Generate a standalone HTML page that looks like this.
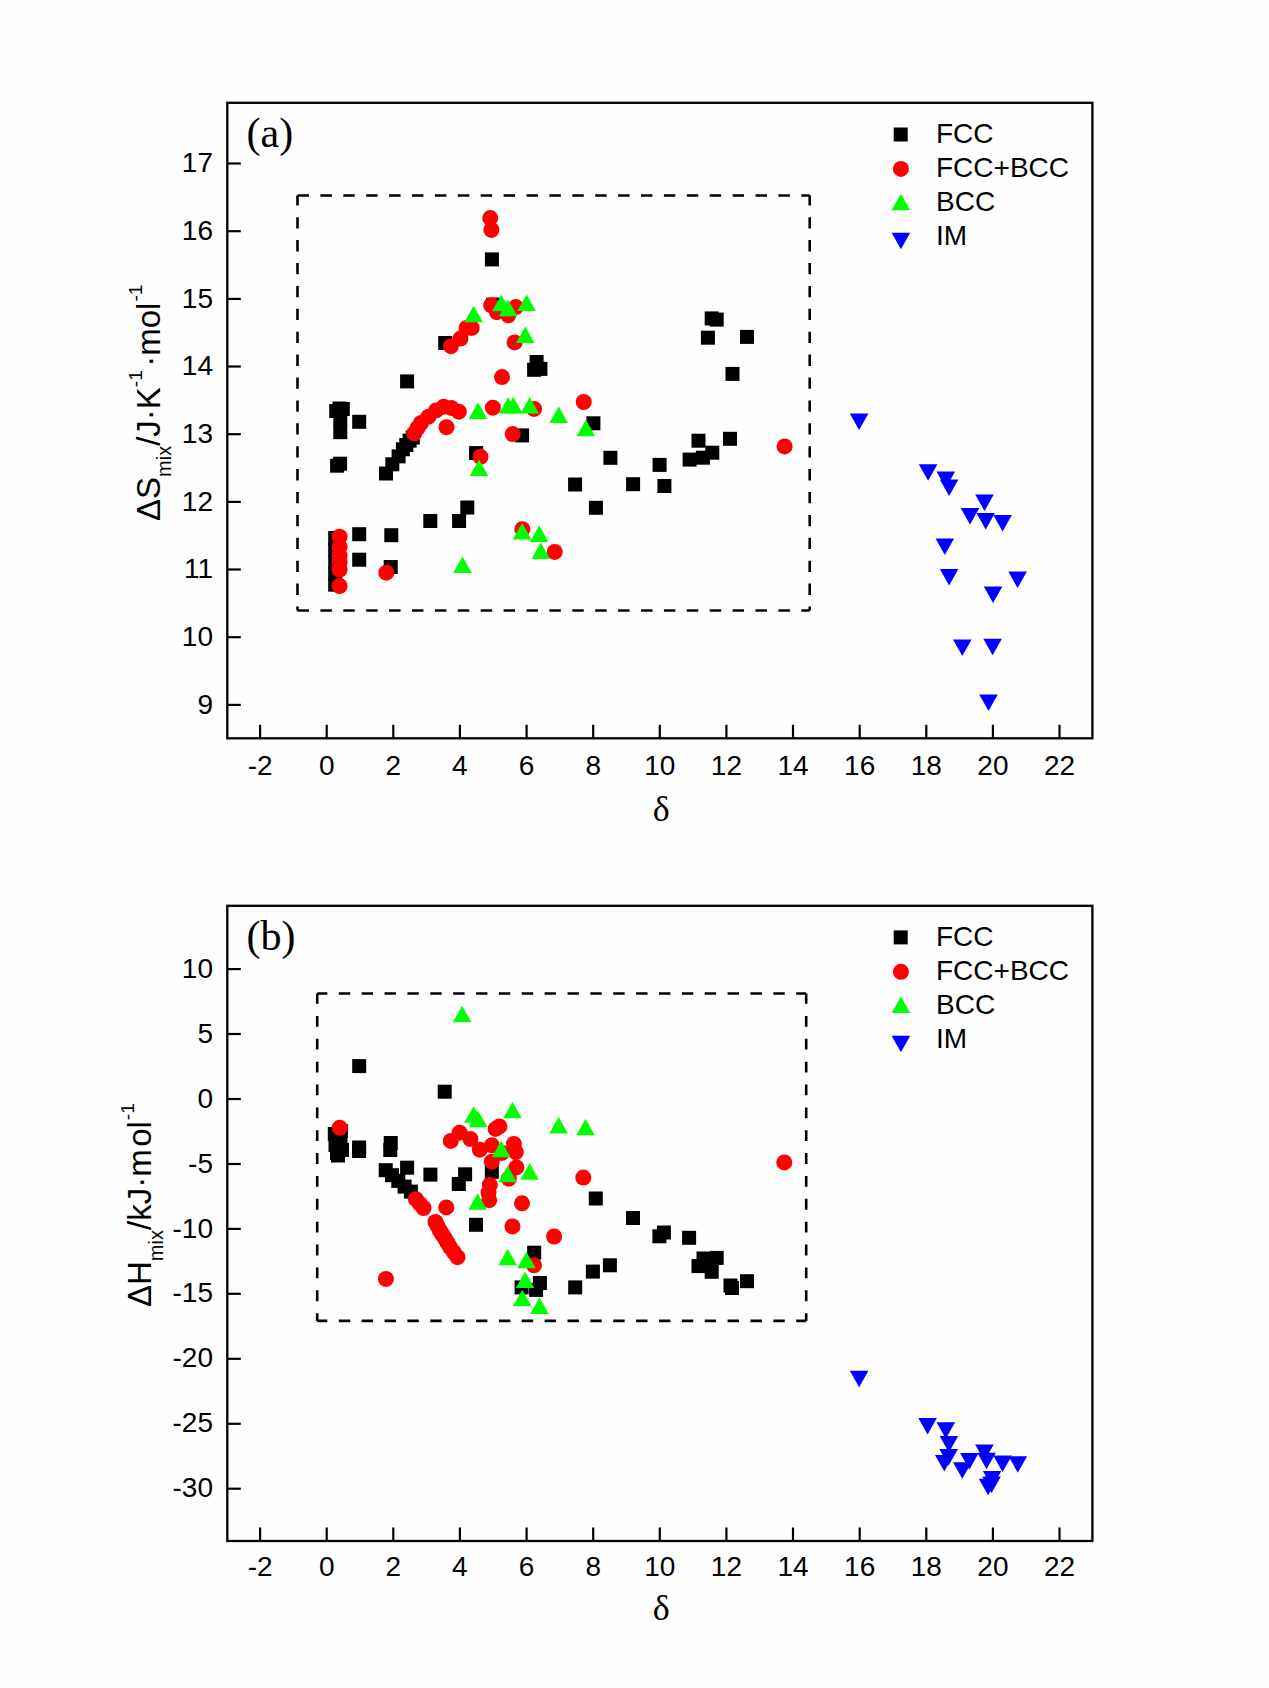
<!DOCTYPE html>
<html><head><meta charset="utf-8"><style>
html,body{margin:0;padding:0;background:#fefefe;}
svg{display:block;}
</style></head><body>
<svg width="1269" height="1688" viewBox="0 0 1269 1688">
<rect width="1269" height="1688" fill="#fefefe"/>
<rect x="227.3" y="102.8" width="865.1" height="635.5" fill="none" stroke="#000" stroke-width="2.3"/>
<g stroke="#000" stroke-width="2.2"><line x1="260.1" y1="738.3" x2="260.1" y2="724.8"/><line x1="326.7" y1="738.3" x2="326.7" y2="724.8"/><line x1="393.3" y1="738.3" x2="393.3" y2="724.8"/><line x1="459.9" y1="738.3" x2="459.9" y2="724.8"/><line x1="526.6" y1="738.3" x2="526.6" y2="724.8"/><line x1="593.2" y1="738.3" x2="593.2" y2="724.8"/><line x1="659.8" y1="738.3" x2="659.8" y2="724.8"/><line x1="726.4" y1="738.3" x2="726.4" y2="724.8"/><line x1="793.0" y1="738.3" x2="793.0" y2="724.8"/><line x1="859.7" y1="738.3" x2="859.7" y2="724.8"/><line x1="926.3" y1="738.3" x2="926.3" y2="724.8"/><line x1="992.9" y1="738.3" x2="992.9" y2="724.8"/><line x1="1059.5" y1="738.3" x2="1059.5" y2="724.8"/><line x1="227.3" y1="704.9" x2="240.8" y2="704.9"/><line x1="227.3" y1="637.2" x2="240.8" y2="637.2"/><line x1="227.3" y1="569.5" x2="240.8" y2="569.5"/><line x1="227.3" y1="501.9" x2="240.8" y2="501.9"/><line x1="227.3" y1="434.2" x2="240.8" y2="434.2"/><line x1="227.3" y1="366.5" x2="240.8" y2="366.5"/><line x1="227.3" y1="298.9" x2="240.8" y2="298.9"/><line x1="227.3" y1="231.2" x2="240.8" y2="231.2"/><line x1="227.3" y1="163.5" x2="240.8" y2="163.5"/></g>
<g font-family="Liberation Sans" font-size="28" fill="#000" text-anchor="middle"><text x="260.1" y="774.7">-2</text><text x="326.7" y="774.7">0</text><text x="393.3" y="774.7">2</text><text x="459.9" y="774.7">4</text><text x="526.6" y="774.7">6</text><text x="593.2" y="774.7">8</text><text x="659.8" y="774.7">10</text><text x="726.4" y="774.7">12</text><text x="793.0" y="774.7">14</text><text x="859.7" y="774.7">16</text><text x="926.3" y="774.7">18</text><text x="992.9" y="774.7">20</text><text x="1059.5" y="774.7">22</text></g>
<g font-family="Liberation Sans" font-size="28" fill="#000" text-anchor="end"><text x="213" y="713.5">9</text><text x="213" y="645.8">10</text><text x="213" y="578.1">11</text><text x="213" y="510.5">12</text><text x="213" y="442.8">13</text><text x="213" y="375.1">14</text><text x="213" y="307.5">15</text><text x="213" y="239.8">16</text><text x="213" y="172.1">17</text></g>
<text x="246.5" y="146.6" font-family="Liberation Serif" font-size="42">(a)</text>
<text x="661.3" y="820.8" font-family="Liberation Serif" font-size="36" text-anchor="middle">δ</text>
<g stroke="#000" stroke-width="2.6" fill="none"><g stroke-dasharray="11.45 11.45" stroke-dashoffset="0"><line x1="297.5" y1="195.5" x2="809.7" y2="195.5"/><line x1="297.5" y1="610.5" x2="809.7" y2="610.5"/></g><g stroke-dasharray="11.3 11.6" stroke-dashoffset="1.2"><line x1="297.5" y1="195.5" x2="297.5" y2="610.5"/><line x1="809.7" y1="195.5" x2="809.7" y2="610.5"/></g></g>
<g><g fill="#000"><rect x="893.7" y="127.5" width="14.0" height="14.0"/></g><g fill="#ff0000"><circle cx="900.9" cy="168.9" r="8.0"/></g><g fill="#00ff00"><path d="M900.9 193.8L910.2 210.2L891.6 210.2Z"/></g><g fill="#0000ff"><path d="M891.6 232.8L910.2 232.8L900.9 249.2Z"/></g></g>
<g font-family="Liberation Sans" font-size="28" fill="#000"><text x="936" y="142.8">FCC</text><text x="936" y="177.0">FCC+BCC</text><text x="936" y="211.2">BCC</text><text x="936" y="245.4">IM</text></g>
<text transform="translate(159.5,521) rotate(-90)" font-family="Liberation Sans" font-size="33" fill="#000">ΔS<tspan font-size="20" dy="11.5">mix</tspan><tspan dy="-11.5">/J·K</tspan><tspan font-size="19" dy="-17.5">-1</tspan><tspan dy="17.5" dx="3.5">·mol</tspan><tspan font-size="19" dy="-17.5" dx="1">-1</tspan></text>
<g fill="#000"><rect x="329.2" y="404.0" width="14.0" height="14.0"/><rect x="332.5" y="401.5" width="14.0" height="14.0"/><rect x="335.8" y="402.0" width="14.0" height="14.0"/><rect x="333.3" y="412.3" width="14.0" height="14.0"/><rect x="333.3" y="425.2" width="14.0" height="14.0"/><rect x="352.2" y="414.8" width="14.0" height="14.0"/><rect x="330.1" y="458.7" width="14.0" height="14.0"/><rect x="333.1" y="456.7" width="14.0" height="14.0"/><rect x="379.0" y="466.5" width="14.0" height="14.0"/><rect x="385.3" y="457.3" width="14.0" height="14.0"/><rect x="391.6" y="449.4" width="14.0" height="14.0"/><rect x="395.9" y="442.3" width="14.0" height="14.0"/><rect x="399.3" y="438.0" width="14.0" height="14.0"/><rect x="402.6" y="433.6" width="14.0" height="14.0"/><rect x="405.8" y="430.5" width="14.0" height="14.0"/><rect x="400.1" y="374.4" width="14.0" height="14.0"/><rect x="438.2" y="336.0" width="14.0" height="14.0"/><rect x="484.9" y="252.4" width="14.0" height="14.0"/><rect x="486.1" y="297.6" width="14.0" height="14.0"/><rect x="529.6" y="355.0" width="14.0" height="14.0"/><rect x="527.1" y="362.8" width="14.0" height="14.0"/><rect x="533.4" y="361.9" width="14.0" height="14.0"/><rect x="469.1" y="446.1" width="14.0" height="14.0"/><rect x="515.1" y="428.4" width="14.0" height="14.0"/><rect x="352.2" y="527.2" width="14.0" height="14.0"/><rect x="352.2" y="552.7" width="14.0" height="14.0"/><rect x="384.3" y="528.2" width="14.0" height="14.0"/><rect x="383.7" y="560.0" width="14.0" height="14.0"/><rect x="423.3" y="514.0" width="14.0" height="14.0"/><rect x="452.1" y="514.0" width="14.0" height="14.0"/><rect x="460.3" y="500.5" width="14.0" height="14.0"/><rect x="328.2" y="531.0" width="14.0" height="14.0"/><rect x="328.2" y="543.0" width="14.0" height="14.0"/><rect x="328.2" y="555.0" width="14.0" height="14.0"/><rect x="328.2" y="567.0" width="14.0" height="14.0"/><rect x="328.2" y="577.7" width="14.0" height="14.0"/><rect x="568.1" y="477.5" width="14.0" height="14.0"/><rect x="586.4" y="416.3" width="14.0" height="14.0"/><rect x="603.4" y="450.8" width="14.0" height="14.0"/><rect x="626.1" y="477.2" width="14.0" height="14.0"/><rect x="652.6" y="457.9" width="14.0" height="14.0"/><rect x="657.4" y="479.0" width="14.0" height="14.0"/><rect x="588.9" y="500.8" width="14.0" height="14.0"/><rect x="691.5" y="433.7" width="14.0" height="14.0"/><rect x="682.6" y="452.6" width="14.0" height="14.0"/><rect x="695.9" y="450.7" width="14.0" height="14.0"/><rect x="705.3" y="445.7" width="14.0" height="14.0"/><rect x="723.0" y="431.8" width="14.0" height="14.0"/><rect x="704.7" y="311.4" width="14.0" height="14.0"/><rect x="709.7" y="312.6" width="14.0" height="14.0"/><rect x="700.9" y="330.7" width="14.0" height="14.0"/><rect x="740.0" y="329.9" width="14.0" height="14.0"/><rect x="725.5" y="366.9" width="14.0" height="14.0"/></g>
<g fill="#ff0000"><circle cx="490.2" cy="218.1" r="8.0"/><circle cx="491.4" cy="229.9" r="8.0"/><circle cx="491.2" cy="305.2" r="8.0"/><circle cx="496.9" cy="312.2" r="8.0"/><circle cx="508.3" cy="315.3" r="8.0"/><circle cx="515.8" cy="307.1" r="8.0"/><circle cx="450.9" cy="346.2" r="8.0"/><circle cx="460.4" cy="338.6" r="8.0"/><circle cx="466.7" cy="327.9" r="8.0"/><circle cx="471.7" cy="327.9" r="8.0"/><circle cx="514.6" cy="342.4" r="8.0"/><circle cx="502.0" cy="377.1" r="8.0"/><circle cx="414.2" cy="433.4" r="8.0"/><circle cx="417.6" cy="428.0" r="8.0"/><circle cx="421.0" cy="423.0" r="8.0"/><circle cx="428.5" cy="416.7" r="8.0"/><circle cx="436.1" cy="410.4" r="8.0"/><circle cx="443.7" cy="406.7" r="8.0"/><circle cx="451.2" cy="407.9" r="8.0"/><circle cx="458.8" cy="411.7" r="8.0"/><circle cx="446.5" cy="427.2" r="8.0"/><circle cx="492.9" cy="407.7" r="8.0"/><circle cx="534.1" cy="408.9" r="8.0"/><circle cx="583.7" cy="402.0" r="8.0"/><circle cx="512.7" cy="434.1" r="8.0"/><circle cx="480.5" cy="456.8" r="8.0"/><circle cx="339.6" cy="536.7" r="8.0"/><circle cx="339.6" cy="546.8" r="8.0"/><circle cx="339.6" cy="555.7" r="8.0"/><circle cx="339.6" cy="562.0" r="8.0"/><circle cx="339.6" cy="569.5" r="8.0"/><circle cx="339.6" cy="586.0" r="8.0"/><circle cx="386.3" cy="572.7" r="8.0"/><circle cx="522.4" cy="529.2" r="8.0"/><circle cx="554.7" cy="551.9" r="8.0"/><circle cx="784.6" cy="446.4" r="8.0"/></g>
<g fill="#00ff00"><path d="M473.6 305.8L482.9 322.2L464.3 322.2Z"/><path d="M501.3 294.8L510.6 311.2L492.0 311.2Z"/><path d="M508.3 299.8L517.6 316.2L499.0 316.2Z"/><path d="M526.6 294.4L535.9 310.9L517.3 310.9Z"/><path d="M525.3 326.6L534.6 343.1L516.0 343.1Z"/><path d="M478.0 402.6L487.3 419.1L468.7 419.1Z"/><path d="M508.3 397.1L517.6 413.6L499.0 413.6Z"/><path d="M513.3 397.1L522.6 413.6L504.0 413.6Z"/><path d="M529.7 397.1L539.0 413.6L520.4 413.6Z"/><path d="M558.7 406.6L568.0 423.1L549.4 423.1Z"/><path d="M479.0 459.6L488.3 476.1L469.7 476.1Z"/><path d="M585.9 419.8L595.2 436.2L576.6 436.2Z"/><path d="M522.1 522.9L531.4 539.4L512.8 539.4Z"/><path d="M539.2 525.4L548.5 541.9L529.9 541.9Z"/><path d="M540.8 542.4L550.1 558.9L531.5 558.9Z"/><path d="M462.5 556.5L471.8 573.0L453.2 573.0Z"/></g>
<g fill="#0000ff"><path d="M849.8 413.4L868.4 413.4L859.1 429.9Z"/><path d="M918.8 464.2L937.4 464.2L928.1 480.8Z"/><path d="M936.5 471.4L955.1 471.4L945.8 487.9Z"/><path d="M939.8 479.4L958.4 479.4L949.1 495.9Z"/><path d="M975.2 494.6L993.8 494.6L984.5 511.1Z"/><path d="M960.7 508.0L979.3 508.0L970.0 524.5Z"/><path d="M976.4 513.0L995.0 513.0L985.7 529.5Z"/><path d="M993.3 515.0L1011.9 515.0L1002.6 531.5Z"/><path d="M935.5 538.5L954.1 538.5L944.8 555.0Z"/><path d="M939.8 569.0L958.4 569.0L949.1 585.5Z"/><path d="M1008.3 571.6L1026.9 571.6L1017.6 588.1Z"/><path d="M983.8 586.5L1002.4 586.5L993.1 603.0Z"/><path d="M953.0 639.5L971.6 639.5L962.3 656.0Z"/><path d="M983.3 638.8L1001.9 638.8L992.6 655.2Z"/><path d="M979.2 694.4L997.8 694.4L988.5 710.9Z"/></g>
<rect x="227.3" y="905.8" width="865.1" height="635.2" fill="none" stroke="#000" stroke-width="2.3"/>
<g stroke="#000" stroke-width="2.2"><line x1="260.1" y1="1541" x2="260.1" y2="1527.5"/><line x1="326.7" y1="1541" x2="326.7" y2="1527.5"/><line x1="393.3" y1="1541" x2="393.3" y2="1527.5"/><line x1="459.9" y1="1541" x2="459.9" y2="1527.5"/><line x1="526.6" y1="1541" x2="526.6" y2="1527.5"/><line x1="593.2" y1="1541" x2="593.2" y2="1527.5"/><line x1="659.8" y1="1541" x2="659.8" y2="1527.5"/><line x1="726.4" y1="1541" x2="726.4" y2="1527.5"/><line x1="793.0" y1="1541" x2="793.0" y2="1527.5"/><line x1="859.7" y1="1541" x2="859.7" y2="1527.5"/><line x1="926.3" y1="1541" x2="926.3" y2="1527.5"/><line x1="992.9" y1="1541" x2="992.9" y2="1527.5"/><line x1="1059.5" y1="1541" x2="1059.5" y2="1527.5"/><line x1="227.3" y1="1488.7" x2="240.8" y2="1488.7"/><line x1="227.3" y1="1423.8" x2="240.8" y2="1423.8"/><line x1="227.3" y1="1358.8" x2="240.8" y2="1358.8"/><line x1="227.3" y1="1293.8" x2="240.8" y2="1293.8"/><line x1="227.3" y1="1228.9" x2="240.8" y2="1228.9"/><line x1="227.3" y1="1164.0" x2="240.8" y2="1164.0"/><line x1="227.3" y1="1099.0" x2="240.8" y2="1099.0"/><line x1="227.3" y1="1034.0" x2="240.8" y2="1034.0"/><line x1="227.3" y1="969.1" x2="240.8" y2="969.1"/></g>
<g font-family="Liberation Sans" font-size="28" fill="#000" text-anchor="middle"><text x="260.1" y="1576.4">-2</text><text x="326.7" y="1576.4">0</text><text x="393.3" y="1576.4">2</text><text x="459.9" y="1576.4">4</text><text x="526.6" y="1576.4">6</text><text x="593.2" y="1576.4">8</text><text x="659.8" y="1576.4">10</text><text x="726.4" y="1576.4">12</text><text x="793.0" y="1576.4">14</text><text x="859.7" y="1576.4">16</text><text x="926.3" y="1576.4">18</text><text x="992.9" y="1576.4">20</text><text x="1059.5" y="1576.4">22</text></g>
<g font-family="Liberation Sans" font-size="28" fill="#000" text-anchor="end"><text x="213" y="1497.3">-30</text><text x="213" y="1432.3">-25</text><text x="213" y="1367.4">-20</text><text x="213" y="1302.4">-15</text><text x="213" y="1237.5">-10</text><text x="213" y="1172.5">-5</text><text x="213" y="1107.6">0</text><text x="213" y="1042.6">5</text><text x="213" y="977.7">10</text></g>
<text x="246.5" y="949.6" font-family="Liberation Serif" font-size="42">(b)</text>
<text x="661.3" y="1620.1" font-family="Liberation Serif" font-size="36" text-anchor="middle">δ</text>
<g stroke="#000" stroke-width="2.6" fill="none"><g stroke-dasharray="11.4 11.47" stroke-dashoffset="1.27"><line x1="317.2" y1="993.5" x2="806.2" y2="993.5"/><line x1="317.2" y1="1320.9" x2="806.2" y2="1320.9"/></g><g stroke-dasharray="10.8 12.07" stroke-dashoffset="0.47"><line x1="317.2" y1="993.5" x2="317.2" y2="1320.9"/><line x1="806.2" y1="993.5" x2="806.2" y2="1320.9"/></g></g>
<g><g fill="#000"><rect x="893.7" y="930.4" width="14.0" height="14.0"/></g><g fill="#ff0000"><circle cx="900.9" cy="971.8" r="8.0"/></g><g fill="#00ff00"><path d="M900.9 996.6L910.2 1013.1L891.6 1013.1Z"/></g><g fill="#0000ff"><path d="M891.6 1035.7L910.2 1035.7L900.9 1052.2Z"/></g></g>
<g font-family="Liberation Sans" font-size="28" fill="#000"><text x="936" y="945.7">FCC</text><text x="936" y="979.9">FCC+BCC</text><text x="936" y="1014.1">BCC</text><text x="936" y="1048.3">IM</text></g>
<text transform="translate(151,1307) rotate(-90)" font-family="Liberation Sans" font-size="33" fill="#000">ΔH<tspan font-size="20" dy="12">mix</tspan><tspan dy="-12">/kJ·m</tspan><tspan dx="2.5">ol</tspan><tspan font-size="19" dy="-17.5" dx="1">-1</tspan></text>
<g fill="#000"><rect x="352.2" y="1059.1" width="14.0" height="14.0"/><rect x="437.7" y="1084.7" width="14.0" height="14.0"/><rect x="352.1" y="1140.5" width="14.0" height="14.0"/><rect x="352.1" y="1144.0" width="14.0" height="14.0"/><rect x="383.7" y="1136.0" width="14.0" height="14.0"/><rect x="383.3" y="1143.0" width="14.0" height="14.0"/><rect x="327.8" y="1127.0" width="14.0" height="14.0"/><rect x="333.8" y="1124.0" width="14.0" height="14.0"/><rect x="333.5" y="1131.0" width="14.0" height="14.0"/><rect x="328.5" y="1138.0" width="14.0" height="14.0"/><rect x="335.0" y="1143.0" width="14.0" height="14.0"/><rect x="330.0" y="1146.0" width="14.0" height="14.0"/><rect x="331.0" y="1148.5" width="14.0" height="14.0"/><rect x="378.7" y="1163.2" width="14.0" height="14.0"/><rect x="385.0" y="1168.2" width="14.0" height="14.0"/><rect x="391.3" y="1173.9" width="14.0" height="14.0"/><rect x="397.6" y="1179.6" width="14.0" height="14.0"/><rect x="403.9" y="1184.6" width="14.0" height="14.0"/><rect x="400.1" y="1160.7" width="14.0" height="14.0"/><rect x="423.4" y="1167.6" width="14.0" height="14.0"/><rect x="451.8" y="1177.0" width="14.0" height="14.0"/><rect x="458.1" y="1167.3" width="14.0" height="14.0"/><rect x="484.8" y="1164.8" width="14.0" height="14.0"/><rect x="469.0" y="1217.8" width="14.0" height="14.0"/><rect x="588.8" y="1191.5" width="14.0" height="14.0"/><rect x="626.0" y="1211.0" width="14.0" height="14.0"/><rect x="652.4" y="1229.3" width="14.0" height="14.0"/><rect x="656.9" y="1225.5" width="14.0" height="14.0"/><rect x="682.1" y="1230.8" width="14.0" height="14.0"/><rect x="585.9" y="1264.6" width="14.0" height="14.0"/><rect x="602.9" y="1258.3" width="14.0" height="14.0"/><rect x="568.2" y="1280.4" width="14.0" height="14.0"/><rect x="696.5" y="1251.5" width="14.0" height="14.0"/><rect x="709.7" y="1250.9" width="14.0" height="14.0"/><rect x="691.5" y="1259.1" width="14.0" height="14.0"/><rect x="704.7" y="1264.8" width="14.0" height="14.0"/><rect x="723.5" y="1278.5" width="14.0" height="14.0"/><rect x="725.0" y="1281.0" width="14.0" height="14.0"/><rect x="740.0" y="1274.2" width="14.0" height="14.0"/><rect x="527.2" y="1245.7" width="14.0" height="14.0"/><rect x="514.6" y="1280.4" width="14.0" height="14.0"/><rect x="532.9" y="1276.0" width="14.0" height="14.0"/><rect x="529.1" y="1282.9" width="14.0" height="14.0"/></g>
<g fill="#ff0000"><circle cx="339.7" cy="1127.7" r="8.0"/><circle cx="415.9" cy="1199.2" r="8.0"/><circle cx="419.7" cy="1203.6" r="8.0"/><circle cx="423.5" cy="1208.0" r="8.0"/><circle cx="435.5" cy="1221.9" r="8.0"/><circle cx="437.7" cy="1226.3" r="8.0"/><circle cx="439.9" cy="1230.7" r="8.0"/><circle cx="442.4" cy="1234.5" r="8.0"/><circle cx="444.9" cy="1238.3" r="8.0"/><circle cx="447.5" cy="1242.7" r="8.0"/><circle cx="450.0" cy="1247.1" r="8.0"/><circle cx="453.7" cy="1252.1" r="8.0"/><circle cx="457.5" cy="1257.2" r="8.0"/><circle cx="446.3" cy="1207.4" r="8.0"/><circle cx="385.9" cy="1278.9" r="8.0"/><circle cx="450.8" cy="1140.9" r="8.0"/><circle cx="459.6" cy="1132.7" r="8.0"/><circle cx="470.4" cy="1139.0" r="8.0"/><circle cx="479.8" cy="1149.7" r="8.0"/><circle cx="491.8" cy="1145.3" r="8.0"/><circle cx="495.6" cy="1128.9" r="8.0"/><circle cx="499.4" cy="1126.4" r="8.0"/><circle cx="513.9" cy="1144.0" r="8.0"/><circle cx="515.8" cy="1152.2" r="8.0"/><circle cx="491.8" cy="1161.7" r="8.0"/><circle cx="501.9" cy="1152.9" r="8.0"/><circle cx="516.4" cy="1167.4" r="8.0"/><circle cx="508.8" cy="1178.7" r="8.0"/><circle cx="489.8" cy="1185.0" r="8.0"/><circle cx="488.5" cy="1192.6" r="8.0"/><circle cx="489.2" cy="1200.2" r="8.0"/><circle cx="522.0" cy="1203.3" r="8.0"/><circle cx="512.5" cy="1226.4" r="8.0"/><circle cx="554.1" cy="1236.5" r="8.0"/><circle cx="583.3" cy="1177.6" r="8.0"/><circle cx="534.0" cy="1265.3" r="8.0"/><circle cx="784.3" cy="1162.4" r="8.0"/></g>
<g fill="#00ff00"><path d="M462.1 1005.8L471.4 1022.2L452.8 1022.2Z"/><path d="M473.6 1106.2L482.9 1122.8L464.3 1122.8Z"/><path d="M478.2 1110.8L487.5 1127.3L468.9 1127.3Z"/><path d="M512.5 1101.7L521.8 1118.2L503.2 1118.2Z"/><path d="M558.6 1117.0L567.9 1133.5L549.3 1133.5Z"/><path d="M585.5 1118.8L594.8 1135.2L576.2 1135.2Z"/><path d="M501.2 1140.8L510.5 1157.3L491.9 1157.3Z"/><path d="M507.6 1165.7L516.9 1182.2L498.3 1182.2Z"/><path d="M529.6 1163.2L538.9 1179.8L520.3 1179.8Z"/><path d="M477.6 1193.2L486.9 1209.7L468.3 1209.7Z"/><path d="M507.7 1248.8L517.0 1265.3L498.4 1265.3Z"/><path d="M526.4 1251.7L535.7 1268.2L517.1 1268.2Z"/><path d="M525.1 1271.5L534.4 1288.0L515.8 1288.0Z"/><path d="M522.2 1289.8L531.5 1306.3L512.9 1306.3Z"/><path d="M539.5 1297.5L548.8 1314.0L530.2 1314.0Z"/></g>
<g fill="#0000ff"><path d="M849.8 1370.8L868.4 1370.8L859.1 1387.3Z"/><path d="M918.3 1418.0L936.9 1418.0L927.6 1434.5Z"/><path d="M936.5 1422.3L955.1 1422.3L945.8 1438.8Z"/><path d="M939.6 1436.0L958.2 1436.0L948.9 1452.5Z"/><path d="M939.4 1449.0L958.0 1449.0L948.7 1465.5Z"/><path d="M935.0 1455.0L953.6 1455.0L944.3 1471.5Z"/><path d="M953.0 1462.2L971.6 1462.2L962.3 1478.8Z"/><path d="M960.1 1453.0L978.7 1453.0L969.4 1469.5Z"/><path d="M975.1 1444.5L993.7 1444.5L984.4 1461.0Z"/><path d="M977.3 1452.7L995.9 1452.7L986.6 1469.2Z"/><path d="M993.3 1455.5L1011.9 1455.5L1002.6 1472.0Z"/><path d="M1008.5 1456.2L1027.1 1456.2L1017.8 1472.8Z"/><path d="M982.8 1471.0L1001.4 1471.0L992.1 1487.5Z"/><path d="M978.8 1478.7L997.4 1478.7L988.1 1495.2Z"/><path d="M982.3 1476.5L1000.9 1476.5L991.6 1493.0Z"/></g>
</svg>
</body></html>
